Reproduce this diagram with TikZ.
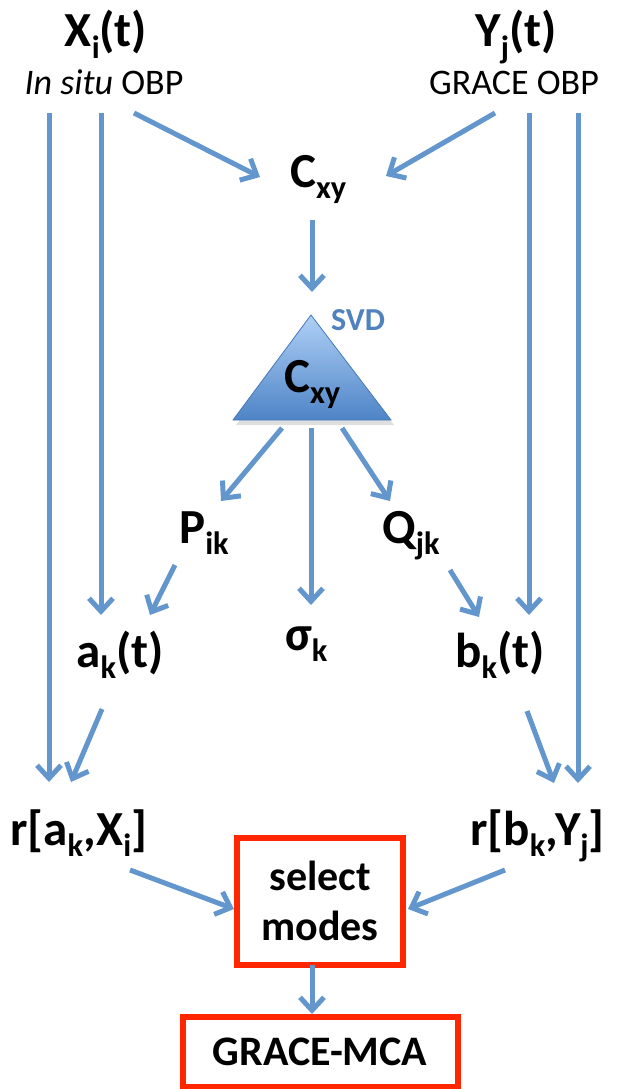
\documentclass[tikz,border=0pt]{standalone}
\usepackage{fontspec}
\setmainfont{Carlito}
\usetikzlibrary{arrows.meta,shadings}
\newcommand\lo[1]{\raisebox{-0.23em}{\scalebox{0.66}{#1}}}
\definecolor{arrblue}{RGB}{99,150,204}
\definecolor{svdblue}{RGB}{80,130,190}
\definecolor{boxred}{RGB}{255,38,0}
\definecolor{tritop}{RGB}{175,208,246}
\definecolor{tribot}{RGB}{78,132,198}
\definecolor{triedge}{RGB}{70,120,185}
\begin{document}
\begin{tikzpicture}[x=1pt,y=-1pt,
  arr/.style={draw=arrblue,line width=5pt,-{Straight Barb[length=13pt,width=24pt,line width=5pt]}},
  big/.style={font=\fontsize{49}{54}\selectfont\bfseries,inner sep=0pt},
  sub/.style={font=\fontsize{36}{40}\selectfont,inner sep=0pt},
  redbox/.style={draw=boxred,line width=6pt,fill=white}]
\useasboundingbox (0,0) rectangle (621,1089);
% top labels
\node[big,anchor=base] (X) at (106,47) {X\lo{i}(t)};
\node[sub,anchor=base] (Xs) at (104,95) {\textit{In situ} OBP};
\node[big,anchor=base] (Y) at (516,47) {Y\lo{j}(t)};
\node[sub,anchor=base] (Ys) at (514,95) {GRACE OBP};
\node[big,anchor=base west] (C) at (290,187) {C\lo{xy}};
% triangle
\coordinate (tA) at (311,315);
\coordinate (tL) at (233,420);
\coordinate (tR) at (391,420);
\fill[black!25,opacity=0.5] (311,320) -- (394,425) -- (236,425) -- cycle;
\shade[top color=tritop,bottom color=tribot,draw=triedge,line width=0.8pt] (tA) -- (tR) -- (tL) -- cycle;
\node[big,anchor=base west] (T) at (284,392) {C\lo{xy}};
\node[font=\fontsize{32}{36}\selectfont\bfseries,text=svdblue,inner sep=0pt] (svd) at (358,320) {SVD};
% middle
\node[big,anchor=base west] (P) at (179,543) {P\lo{ik}};
\node[big,anchor=base west] (Q) at (382,543) {Q\lo{jk}};
\node[big,anchor=base] (a) at (120,667) {a\lo{k}(t)};
\node[big,anchor=base west] (s) at (285,650) {σ\lo{k}};
\node[big,anchor=base] (b) at (500,667) {b\lo{k}(t)};
\node[big,anchor=base west] (ra) at (10,845) {r[a\lo{k},X\lo{i}]};
\node[big,anchor=base west] (rb) at (470,845) {r[b\lo{k},Y\lo{j}]};
% boxes
\node[redbox,minimum width=166pt,minimum height=127pt,align=center,font=\fontsize{42}{50}\selectfont\bfseries] (sel) at (320,901) {select\\modes};
\node[redbox,minimum width=275pt,minimum height=70pt,font=\fontsize{42}{46}\selectfont\bfseries] (gm) at (320,1052) {GRACE-MCA};
% arrow endpoints
\coordinate (x1) at (49,113);   \coordinate (x1e) at (49,782);
\coordinate (x2) at (101,113);  \coordinate (x2e) at (101,615);
\coordinate (x3) at (134,113);  \coordinate (x3e) at (260,177);
\coordinate (y3) at (495,113);  \coordinate (y3e) at (386,176);
\coordinate (y2) at (529,113);  \coordinate (y2e) at (529,615);
\coordinate (y1) at (578,113);  \coordinate (y1e) at (578,783);
\coordinate (c1) at (312,220);  \coordinate (c1e) at (312,292);
\coordinate (t1) at (282,428);  \coordinate (t1e) at (221,501);
\coordinate (t2) at (311,428);  \coordinate (t2e) at (311,605);
\coordinate (t3) at (342,428);  \coordinate (t3e) at (390,501);
\coordinate (p1) at (175,565);  \coordinate (p1e) at (150,615);
\coordinate (q1) at (450,570);  \coordinate (q1e) at (479,617);
\coordinate (a1) at (102,709);  \coordinate (a1e) at (71,782);
\coordinate (b1) at (527,711);  \coordinate (b1e) at (554,783);
\coordinate (r1) at (130,870);  \coordinate (r1e) at (234,909);
\coordinate (r2) at (505,870);  \coordinate (r2e) at (408,909);
\coordinate (m1) at (312,965);  \coordinate (m1e) at (312,1014);
% arrows
\draw[arr] (x1) -- (x1e);
\draw[arr] (x2) -- (x2e);
\draw[arr] (x3) -- (x3e);
\draw[arr] (y3) -- (y3e);
\draw[arr] (y2) -- (y2e);
\draw[arr] (y1) -- (y1e);
\draw[arr] (c1) -- (c1e);
\draw[arr] (t1) -- (t1e);
\draw[arr] (t2) -- (t2e);
\draw[arr] (t3) -- (t3e);
\draw[arr] (p1) -- (p1e);
\draw[arr] (q1) -- (q1e);
\draw[arr] (a1) -- (a1e);
\draw[arr] (b1) -- (b1e);
\draw[arr] (r1) -- (r1e);
\draw[arr] (r2) -- (r2e);
\draw[arr] (m1) -- (m1e);
\end{tikzpicture}
\end{document}
